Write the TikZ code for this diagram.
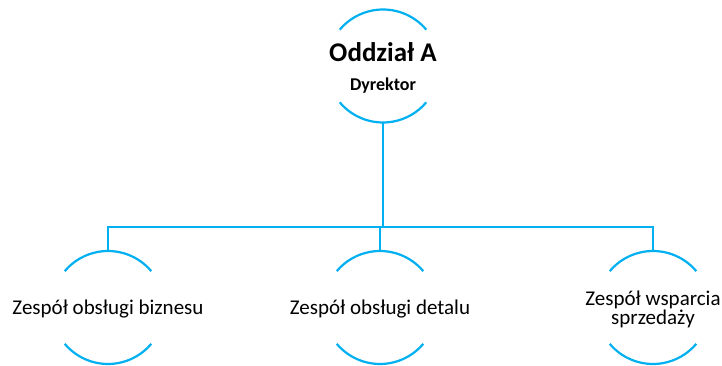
\documentclass[tikz,border=0pt]{standalone}
\usepackage{fontspec}
\setmainfont{Carlito}
\usetikzlibrary{positioning}
\definecolor{lineblue}{RGB}{0,176,240}

\begin{document}
\begin{tikzpicture}[x=1pt, y=1pt, node distance={241.5pt}, line width=2.2pt,
    main/.style = {circle, minimum size=113pt, inner sep=0pt, outer sep=0pt},
    caption/.style = {label={[align=center, yshift=-2pt, font=\fontsize{21}{19.5}\selectfont]center:#1}},
    rim/.style = {draw=lineblue}]
        \useasboundingbox (0,0) rectangle (722,366);
        \node[main, label={[align=center, yshift=-2pt, font=\bfseries\fontsize{18}{29}\selectfont]center:{\fontsize{27}{27}\selectfont Oddział A}\\Dyrektor}] (1) at (383,300) {};
        \node[main, caption={Zespół obsługi detalu}] (3) [below of=1, xshift=-3pt] {};
        \node[main, caption={Zespół obsługi biznesu}] (2) [left of=3, node distance=272pt] {};
        \node[main, caption={Zespół wsparcia\\sprzedaży}] (4) [right of=3, node distance=273pt] {};
        \coordinate (bar) at (383,139);
        \foreach \n in {1,...,4} {
            \draw[rim] (\n.40) arc[start angle=40, end angle=140, radius=56.5pt];
            \draw[rim] (\n.220) arc[start angle=220, end angle=320, radius=56.5pt];
        }
        \draw[rim] (1.south) -- (bar);
        \draw[rim] (2.north) |- (bar);
        \draw[rim] (3.north) |- (bar);
        \draw[rim] (4.north) |- (bar);
    \end{tikzpicture}
\end{document}
